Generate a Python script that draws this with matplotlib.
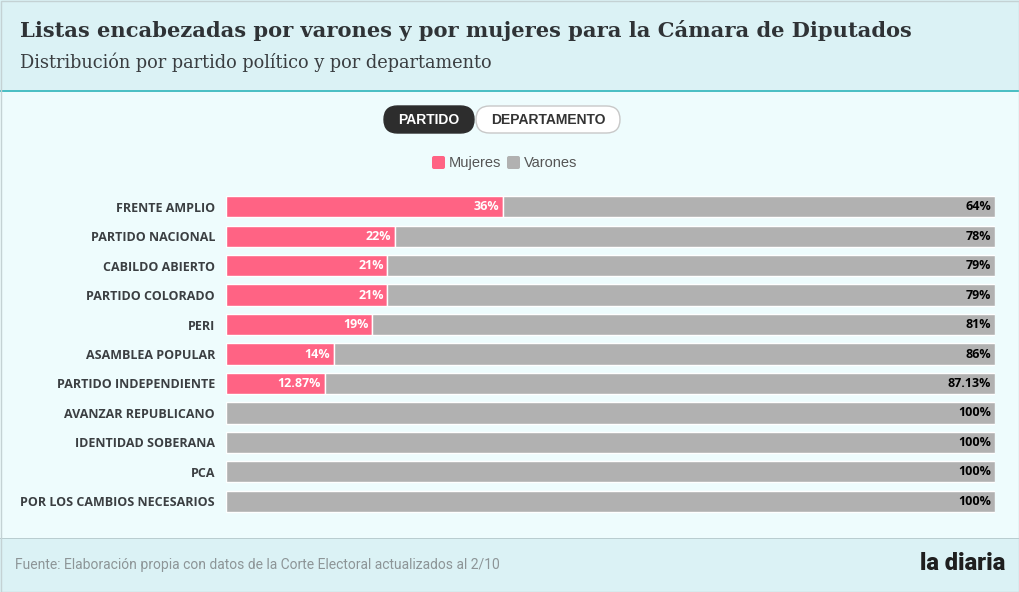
import matplotlib
matplotlib.use("Agg")
import matplotlib.pyplot as plt
from matplotlib.patches import Rectangle, FancyBboxPatch

partidos = ["FRENTE AMPLIO", "PARTIDO NACIONAL", "CABILDO ABIERTO", "PARTIDO COLORADO",
            "PERI", "ASAMBLEA POPULAR", "PARTIDO INDEPENDIENTE", "AVANZAR REPUBLICANO",
            "IDENTIDAD SOBERANA", "PCA", "POR LOS CAMBIOS NECESARIOS"]
mujeres = [36, 22, 21, 21, 19, 14, 12.87, 0, 0, 0, 0]
varones = [64, 78, 79, 79, 81, 86, 87.13, 100, 100, 100, 100]

W, H = 1020, 592
PINK = "#ff6384"
GRAY = "#b1b1b1"


def fmt(v):
    if v == int(v):
        return "%d%%" % v
    return "%.2f%%" % v


fig = plt.figure(figsize=(W / 100, H / 100), dpi=100)
fig.patch.set_facecolor("#eefcfd")

# background layer in pixel coordinates
bg = fig.add_axes([0, 0, 1, 1])
bg.set_xlim(0, W)
bg.set_ylim(H, 0)
bg.axis("off")

bg.add_patch(Rectangle((0, 0), W, 90, facecolor="#dbf2f5", edgecolor="none"))
bg.add_patch(Rectangle((0, 89.5), W, 2.5, facecolor="#4cbfc4", edgecolor="none"))
bg.add_patch(Rectangle((0, 538), W, 54, facecolor="#dbf2f5", edgecolor="none"))
bg.add_patch(Rectangle((0, 537.5), W, 1.2, facecolor="#b9cdd0", edgecolor="none"))
bg.add_patch(Rectangle((0.5, 0.5), W - 1, H - 1, facecolor="none", edgecolor="#c4d2d4", linewidth=1))

bg.text(20, 30.5, "Listas encabezadas por varones y por mujeres para la Cámara de Diputados",
        fontsize=15.1, fontweight="bold", family="DejaVu Serif", color="#2f3336", va="center")
bg.text(20, 62, "Distribución por partido político y por departamento",
        fontsize=12.8, family="DejaVu Serif", color="#3a3e41", va="center")

# buttons
bg.add_patch(FancyBboxPatch((384, 106), 90, 27, boxstyle="round,pad=0,rounding_size=13.5",
                            facecolor="#2d2d2d", edgecolor="#2d2d2d", linewidth=1))
bg.add_patch(FancyBboxPatch((476, 106), 144, 27, boxstyle="round,pad=0,rounding_size=13.5",
                            facecolor="white", edgecolor="#c8c8c8", linewidth=1))
bg.text(429, 120, "PARTIDO", color="white", fontsize=10, fontweight="bold",
        family="Liberation Sans", ha="center", va="center")
bg.text(548, 120, "DEPARTAMENTO", color="#333333", fontsize=10, fontweight="bold",
        family="Liberation Sans", ha="center", va="center")

# legend
for x0, col, name in [(432, PINK, "Mujeres"), (507, GRAY, "Varones")]:
    bg.add_patch(FancyBboxPatch((x0, 156), 13, 13, boxstyle="round,pad=0,rounding_size=2",
                                facecolor=col, edgecolor="none"))
    bg.text(x0 + 17, 163, name, color="#555555", fontsize=10.5,
            family="Liberation Sans", va="center")

bg.text(15, 565, "Fuente: Elaboración propia con datos de la Corte Electoral actualizados al 2/10",
        color="#8d9597", fontsize=10, family="Roboto", va="center")
bg.text(1005, 563, "la diaria", color="#1f1f1f", fontsize=17, fontweight="black",
        family="Roboto", ha="right", va="center")

# bars
ax = fig.add_axes([226 / W, 1 - 516 / H, (995 - 226) / W, 324 / H])
ax.set_facecolor("none")
y = list(range(len(partidos)))
ax.barh(y, mujeres, height=0.72, color=PINK, edgecolor="white", linewidth=1)
ax.barh(y, varones, left=mujeres, height=0.72, color=GRAY, edgecolor="white", linewidth=1)
ax.set_xlim(0, 100)
ax.set_ylim(len(partidos) - 0.5, -0.5)
for s in ax.spines.values():
    s.set_visible(False)
ax.set_xticks([])
ax.set_yticks(y)
ax.set_yticklabels(partidos, fontsize=9, fontweight="bold", family="Open Sans", color="#3b3f42")
ax.tick_params(axis="y", length=0, pad=8)

for i in y:
    if mujeres[i] > 0:
        ax.text(mujeres[i] - 0.5, i, fmt(mujeres[i]), color="white", fontsize=9,
                fontweight="bold", family="Open Sans", ha="right", va="center")
    ax.text(99.5, i, fmt(varones[i]), color="black", fontsize=9,
            fontweight="bold", family="Open Sans", ha="right", va="center")

fig.savefig("out.png", dpi=100, facecolor=fig.get_facecolor())
